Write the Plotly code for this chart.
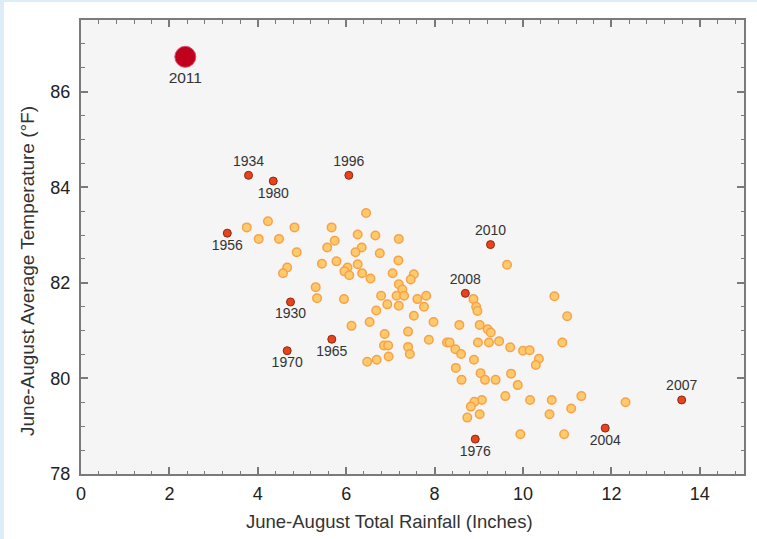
import plotly.graph_objects as go

# Other years (unlabeled)
rain_other = [6.45, 4.23, 3.75, 4.83, 5.67, 4.02, 4.48, 6.26, 6.66, 7.19,
              5.74, 5.57, 6.35, 6.21, 6.76, 4.88, 5.45, 5.78, 6.26, 6.03,
              5.96, 6.07, 6.36, 6.55, 7.18, 7.05, 7.53, 7.46, 4.665, 4.57,
              5.31, 5.34, 5.95, 7.19, 7.27, 7.14, 7.31, 6.79, 6.93, 7.19,
              6.68, 7.61, 7.81, 7.76, 7.53, 7.975, 6.53, 6.12, 7.40, 6.87,
              7.87, 6.855, 6.95, 7.40, 7.44, 6.96, 6.475, 6.69,
              9.64, 8.88, 8.94, 8.97, 10.71, 11.00, 8.56, 9.02, 9.20, 9.27,
              10.89, 8.28, 8.34, 8.98, 9.23, 9.46, 9.71, 10.00, 10.15, 10.36,
              10.29, 8.47, 8.60, 8.89, 8.48, 8.61, 9.04, 9.14, 9.38, 9.73,
              9.88, 9.60, 10.16, 10.65, 11.32, 12.32, 11.09, 10.60, 9.07, 8.90,
              8.82, 9.02, 8.74, 9.94, 10.93]
temp_other = [83.46, 83.29, 83.16, 83.16, 83.16, 82.92, 82.92, 83.01, 82.99, 82.92,
              82.88, 82.74, 82.74, 82.64, 82.62, 82.64, 82.40, 82.45, 82.39, 82.32,
              82.24, 82.16, 82.20, 82.09, 82.47, 82.20, 82.18, 82.07, 82.32, 82.20,
              81.91, 81.68, 81.66, 81.97, 81.86, 81.73, 81.73, 81.73, 81.55, 81.52,
              81.42, 81.66, 81.73, 81.50, 81.31, 81.18, 81.18, 81.10, 80.98, 80.93,
              80.81, 80.69, 80.69, 80.66, 80.51, 80.46, 80.35, 80.39,
              82.38, 81.66, 81.50, 81.41, 81.72, 81.30, 81.12, 81.12, 81.03, 80.96,
              80.75, 80.75, 80.75, 80.75, 80.75, 80.78, 80.65, 80.58, 80.59, 80.41,
              80.28, 80.61, 80.51, 80.39, 80.22, 79.97, 80.11, 79.97, 79.97, 80.10,
              79.86, 79.63, 79.55, 79.55, 79.63, 79.50, 79.37, 79.25, 79.55, 79.51,
              79.41, 79.25, 79.18, 78.83, 78.83]

# Labeled years
years_lab = ["1934", "1980", "1996", "1956", "1930", "1970", "1965",
             "2010", "2008", "1976", "2004", "2007"]
rain_lab = [3.79, 4.35, 6.06, 3.31, 4.74, 4.665, 5.674,
            9.265, 8.695, 8.92, 11.86, 13.59]
temp_lab = [84.25, 84.13, 84.25, 83.04, 81.60, 80.58, 80.82,
            82.80, 81.78, 78.73, 78.96, 79.55]
label_pos = ["top center", "bottom center", "top center", "bottom center",
             "bottom center", "bottom center", "bottom center",
             "top center", "top center", "bottom center", "bottom center",
             "top center"]

year_2011 = ["2011"]
rain_2011 = [2.36]
temp_2011 = [86.73]

x_ticks = [0, 2, 4, 6, 8, 10, 12, 14]
y_ticks = [78, 80, 82, 84, 86]

x_title = "June-August Total Rainfall (Inches)"
y_title = "June-August Average Temperature (°F)"

FONT = "Liberation Sans Narrow, Arial Narrow, Liberation Sans, Arial, sans-serif"

fig = go.Figure()

fig.add_trace(go.Scatter(
    x=rain_other, y=temp_other, mode="markers",
    marker=dict(size=8.5, color="#ffca6a", line=dict(color="#f7a24a", width=1.5)),
    showlegend=False, hoverinfo="x+y"))

fig.add_trace(go.Scatter(
    x=rain_lab, y=temp_lab, mode="markers+text",
    text=years_lab, textposition=label_pos,
    textfont=dict(family=FONT, size=14, color="#333333"),
    marker=dict(size=8, color="#e8431c", line=dict(color="#8a2a12", width=1)),
    showlegend=False, hoverinfo="text+x+y"))

fig.add_trace(go.Scatter(
    x=rain_2011, y=temp_2011, mode="markers+text",
    text=year_2011, textposition="bottom center",
    textfont=dict(family=FONT, size=15.5, color="#333333"),
    marker=dict(size=21, color="#c0001c", line=dict(color="#d8506a", width=1)),
    showlegend=False, hoverinfo="text+x+y"))

axis_common = dict(
    showgrid=False, zeroline=False,
    showline=True, linecolor="#7a7a7a", linewidth=2, mirror="ticks",
    ticks="inside", ticklen=7, tickwidth=1.5, tickcolor="#7a7a7a",
    tickfont=dict(family=FONT, size=18, color="#222222"),
)

fig.update_xaxes(
    range=[0, 15], tickmode="array", tickvals=x_ticks,
    ticktext=[str(v) for v in x_ticks], ticklabelstandoff=2,
    minor=dict(dtick=0.4, tick0=0, ticks="inside", ticklen=3.5,
               tickwidth=1.2, tickcolor="#7a7a7a"),
    **axis_common)

fig.update_yaxes(
    range=[78, 87.5], tickmode="array", tickvals=y_ticks,
    ticktext=[str(v) for v in y_ticks], ticklabelstandoff=5,
    minor=dict(dtick=0.5, tick0=78, ticks="inside", ticklen=3.5,
               tickwidth=1.2, tickcolor="#7a7a7a"),
    **axis_common)

W, H = 757, 539
ml, mr, mt, mb = 81, 13, 20, 65
pw, ph = W - ml - mr, H - mt - mb

fig.update_layout(
    width=W, height=H,
    margin=dict(l=ml, r=mr, t=mt, b=mb, pad=0, autoexpand=False),
    paper_bgcolor="white", plot_bgcolor="#f5f5f5",
    font=dict(family=FONT),
    annotations=[
        dict(text=x_title, xref="paper", yref="paper",
             x=(389 - ml) / pw, y=-(521 - (H - mb)) / ph,
             xanchor="center", yanchor="middle", showarrow=False,
             font=dict(family=FONT, size=18.5, color="#333333")),
        dict(text=y_title, xref="paper", yref="paper", textangle=-90,
             x=(27 - ml) / pw, y=((H - mb) - 271) / ph,
             xanchor="center", yanchor="middle", showarrow=False,
             font=dict(family=FONT, size=19, color="#333333")),
    ],
    shapes=[
        dict(type="rect", xref="paper", yref="paper", layer="below",
             x0=-ml / pw, x1=(4 - ml) / pw, y0=-mb / ph, y1=1 + mt / ph,
             fillcolor="#dcedf7", line=dict(width=0)),
        dict(type="rect", xref="paper", yref="paper", layer="below",
             x0=-ml / pw, x1=1 + mr / pw, y0=1 + (mt - 2) / ph, y1=1 + mt / ph,
             fillcolor="#dcedf7", line=dict(width=0)),
    ],
)

fig.write_html("out.html", config={"displayModeBar": False},
               post_script="document.body.style.margin='0';document.body.style.padding='0';")
